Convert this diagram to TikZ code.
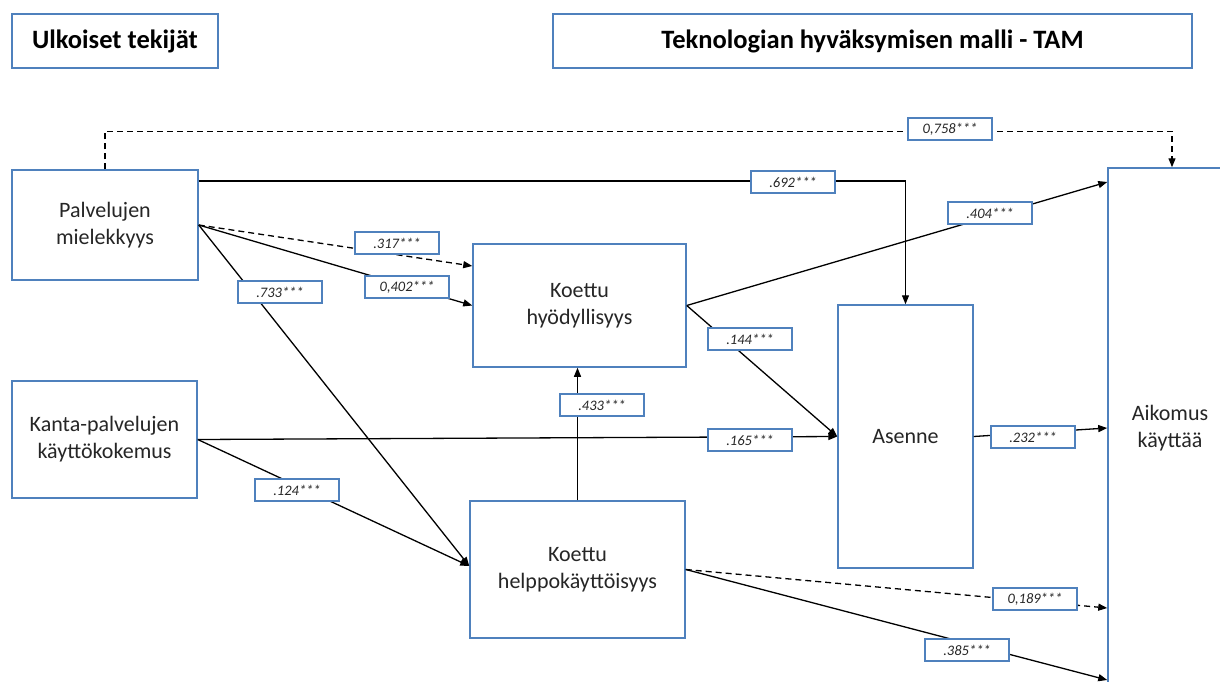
\documentclass[tikz,border=0pt]{standalone}
\usepackage{fontspec}
\setmainfont{Carlito}
\usetikzlibrary{arrows.meta,calc}
\definecolor{bbord}{HTML}{4F81BD}
\begin{document}
\begin{tikzpicture}[x=1pt,y=-1pt,
 box/.style={draw=bbord,line width=1.5pt,fill=white,inner sep=0pt,align=center,font=\fontsize{22}{27}\selectfont,text=black!85},
 hdr/.style={box,font=\bfseries\fontsize{26.5}{30}\selectfont,text=black},
 lab/.style={draw=bbord,line width=1.2pt,fill=white,minimum width=84pt,minimum height=22pt,inner sep=0pt,font=\itshape\fontsize{14.5}{16}\selectfont,text=black!85},
 conn/.style={line width=1.3pt,-{Triangle[length=9pt,width=7pt]}},
 dconn/.style={conn,dash pattern=on 6pt off 4pt}]
\useasboundingbox (0,0) rectangle (1220,682);
\fill[white] (0,0) rectangle (1220,682);
% headers
\node[hdr,minimum width=206pt,minimum height=54pt] (h1) at (115,41) {Ulkoiset tekijät};
\node[hdr,minimum width=639pt,minimum height=54pt] (h2) at (872.5,41) {Teknologian hyväksymisen malli - TAM};
% main boxes
\node[box,minimum width=186pt,minimum height=110pt] (pal) at (105,225) {Palvelujen\\mielekkyys};
\node[box,minimum width=185pt,minimum height=117pt] (kanta) at (104.5,439.5) {Kanta-palvelujen\\käyttökokemus};
\node[box,minimum width=213pt,minimum height=123pt] (hyod) at (579.5,305.5) {Koettu\\hyödyllisyys};
\node[box,minimum width=215pt,minimum height=137pt] (helppo) at (577.5,569.5) {Koettu\\helppokäyttöisyys};
\node[box,minimum width=135pt,minimum height=263pt] (asenne) at (905.5,436.5) {Asenne};
\node[box,minimum width=124pt,minimum height=520pt] (aik) at (1170,428) {Aikomus\\käyttää};
% connectors
\draw[dconn] (pal.north) -- ++(0,-38) -| ([xshift=2pt]aik.north);
\draw[conn] ([yshift=44pt]pal.east) -| (asenne.north);
\draw[dconn] (pal.east) -- ([yshift=39.5pt]hyod.west);
\draw[conn] (pal.east) -- (hyod.west);
\draw[conn] (pal.east) -- ([yshift=3.5pt]helppo.west);
\draw[conn] (kanta.east) -- ([yshift=3.5pt]helppo.west);
\draw[conn] (kanta.east) -- (asenne.west);
\draw[conn] (helppo.north) -- (helppo.north |- hyod.south);
\draw[conn] (hyod.east) -- ([yshift=246pt]aik.west);
\draw[conn] (hyod.east) -- (asenne.west);
\draw[conn] (asenne.east) -- (aik.west);
\draw[dconn] (helppo.east) -- ([yshift=-180pt]aik.west);
\draw[conn] (helppo.east) -- ([yshift=-252pt]aik.west);
% labels
\node[lab] (l758) at (950,129) {0,758***};
\node[lab] (l692) at (793,182) {.692***};
\node[lab] (l404) at (990,213) {.404***};
\node[lab] (l144) at (750,339) {.144***};
\node[lab] (l317) at (397,243) {.317***};
\node[lab] (l402) at (407,287) {0,402***};
\node[lab] (l733) at (280,292) {.733***};
\node[lab] (l124) at (297,490) {.124***};
\node[lab] (l433) at (602,405) {.433***};
\node[lab] (l165) at (750,440) {.165***};
\node[lab] (l232) at (1033,437) {.232***};
\node[lab] (l189) at (1035,599) {0,189***};
\node[lab] (l385) at (967,650) {.385***};
\end{tikzpicture}
\end{document}
